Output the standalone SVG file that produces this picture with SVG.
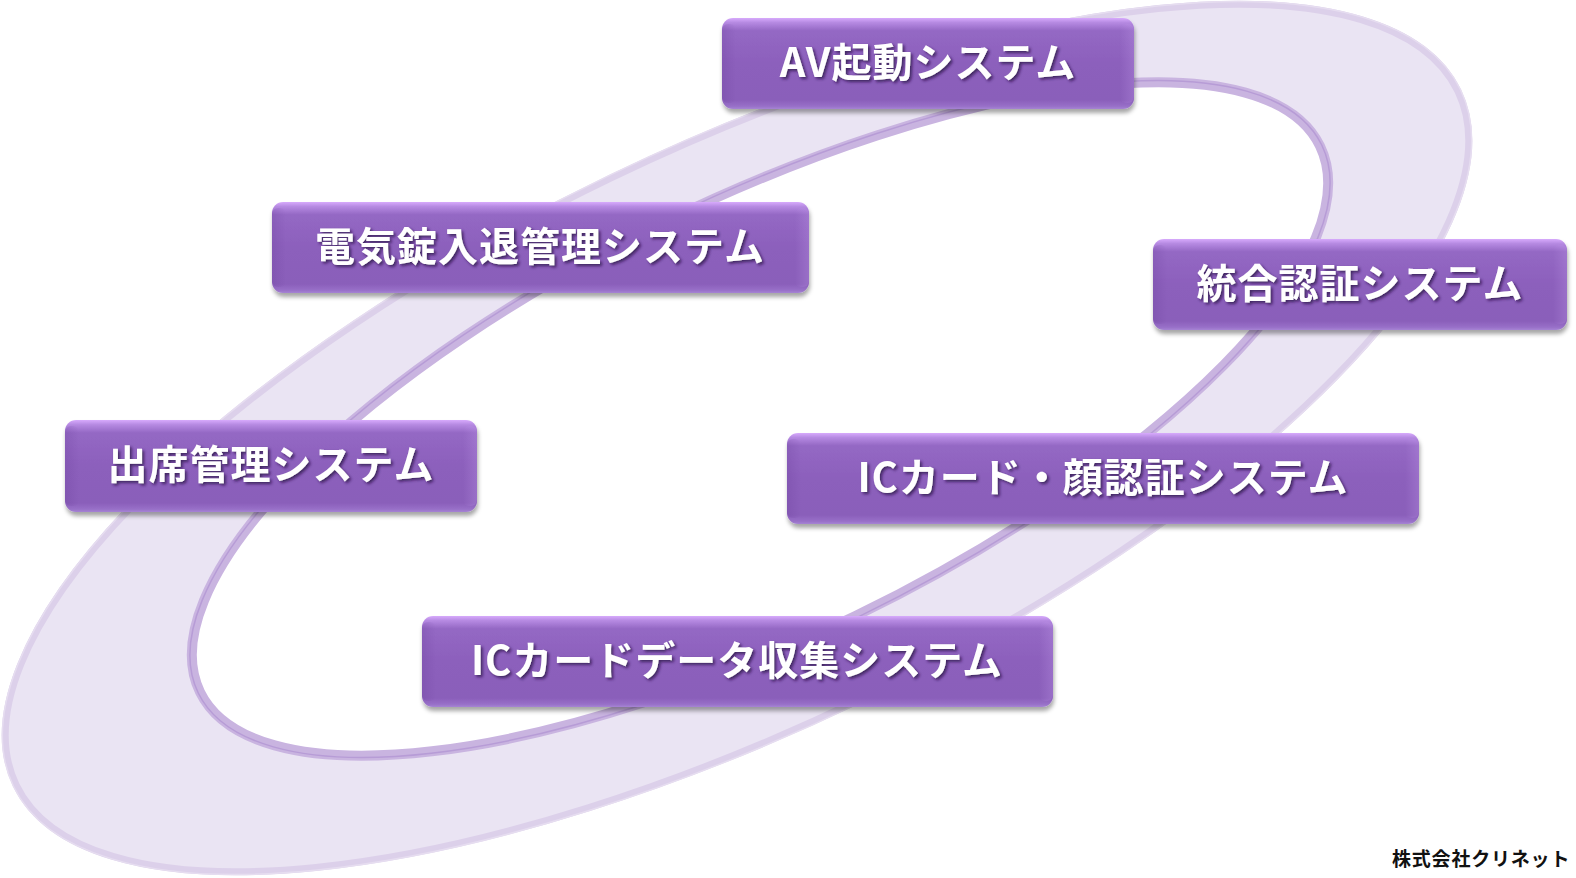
<svg xmlns="http://www.w3.org/2000/svg" width="1576" height="878" viewBox="0 0 1576 878">
<style>
.box{fill:url(#gV);filter:url(#bshadow)}
.bevL{fill:url(#gL)}
.bevR{fill:url(#gR)}
.lbl{font-family:"Noto Sans CJK JP","Noto Sans",sans-serif;font-weight:700;font-size:40px;fill:#ffffff;text-anchor:middle;letter-spacing:1px;filter:url(#tshadow)}
.foot{font-family:"Noto Sans CJK JP","Noto Sans",sans-serif;font-weight:700;font-size:19px;letter-spacing:0.8px;fill:#111111}
</style>
<defs>
<linearGradient id="gV" x1="0" y1="0" x2="0" y2="1">
<stop offset="0" stop-color="#D7AAFC"/>
<stop offset="0.05" stop-color="#B68AE2"/>
<stop offset="0.14" stop-color="#9468C4"/>
<stop offset="0.5" stop-color="#8C60BC"/>
<stop offset="0.9" stop-color="#8A5EBA"/>
<stop offset="0.97" stop-color="#9870C8"/>
<stop offset="1" stop-color="#A684D4"/>
</linearGradient>
<linearGradient id="gL" x1="0" y1="0" x2="1" y2="0">
<stop offset="0" stop-color="#5A2E8A" stop-opacity="0.18"/>
<stop offset="1" stop-color="#5A2E8A" stop-opacity="0"/>
</linearGradient>
<linearGradient id="gR" x1="1" y1="0" x2="0" y2="0">
<stop offset="0" stop-color="#C8A0F0" stop-opacity="0.25"/>
<stop offset="1" stop-color="#C8A0F0" stop-opacity="0"/>
</linearGradient>
<filter id="bshadow" x="-5%" y="-10%" width="110%" height="130%">
<feDropShadow dx="1" dy="4" stdDeviation="2" flood-color="#000000" flood-opacity="0.35"/>
</filter>
<filter id="tshadow" x="-5%" y="-20%" width="110%" height="150%">
<feDropShadow dx="2" dy="2" stdDeviation="1.5" flood-color="#2A1045" flood-opacity="0.75"/>
</filter>
</defs>
<rect width="1576" height="878" fill="#ffffff"/>
<g id="ring">
<ellipse cx="737" cy="438" rx="800" ry="289" transform="rotate(-25.7 737 438)" fill="#EAE4F3" stroke="#DCD0EA" stroke-width="7"/>
<ellipse cx="737" cy="438" rx="803" ry="292" transform="rotate(-25.7 737 438)" fill="none" stroke="#E6DDF0" stroke-width="1.5"/>
<ellipse cx="760" cy="419" rx="623" ry="219" transform="rotate(-26 760 419)" fill="#ffffff" stroke="#C9B4E0" stroke-width="10"/>
<ellipse cx="760" cy="419" rx="625" ry="221" transform="rotate(-26 760 419)" fill="none" stroke="#B79CD6" stroke-width="1.5"/>
</g>
<g id="connectors"></g>
<g id="node-av">
<rect class="box" x="722" y="18" width="412" height="91" rx="11"/>
<rect class="bevL" x="722" y="24" width="14" height="79" rx="6"/>
<rect class="bevR" x="1120" y="24" width="14" height="79" rx="6"/>
<text class="lbl" x="928" y="77">AV起動システム</text>
</g>
<g id="node-togo">
<rect class="box" x="1153" y="239" width="414" height="91" rx="11"/>
<rect class="bevL" x="1153" y="245" width="14" height="79" rx="6"/>
<rect class="bevR" x="1553" y="245" width="14" height="79" rx="6"/>
<text class="lbl" x="1360" y="298">統合認証システム</text>
</g>
<g id="node-denki">
<rect class="box" x="272" y="202" width="537" height="91" rx="11"/>
<rect class="bevL" x="272" y="208" width="14" height="79" rx="6"/>
<rect class="bevR" x="795" y="208" width="14" height="79" rx="6"/>
<text class="lbl" x="540" y="261">電気錠入退管理システム</text>
</g>
<g id="node-shusseki">
<rect class="box" x="65" y="420" width="412" height="92" rx="11"/>
<rect class="bevL" x="65" y="426" width="14" height="80" rx="6"/>
<rect class="bevR" x="463" y="426" width="14" height="80" rx="6"/>
<text class="lbl" x="271" y="479">出席管理システム</text>
</g>
<g id="node-kao">
<rect class="box" x="787" y="433" width="632" height="91" rx="11"/>
<rect class="bevL" x="787" y="439" width="14" height="79" rx="6"/>
<rect class="bevR" x="1405" y="439" width="14" height="79" rx="6"/>
<text class="lbl" x="1103" y="492">ICカード・顔認証システム</text>
</g>
<g id="node-data">
<rect class="box" x="422" y="616" width="631" height="91" rx="11"/>
<rect class="bevL" x="422" y="622" width="14" height="79" rx="6"/>
<rect class="bevR" x="1039" y="622" width="14" height="79" rx="6"/>
<text class="lbl" x="737" y="675">ICカードデータ収集システム</text>
</g>
<text class="foot" x="1392" y="866">株式会社クリネット</text>
</svg>
